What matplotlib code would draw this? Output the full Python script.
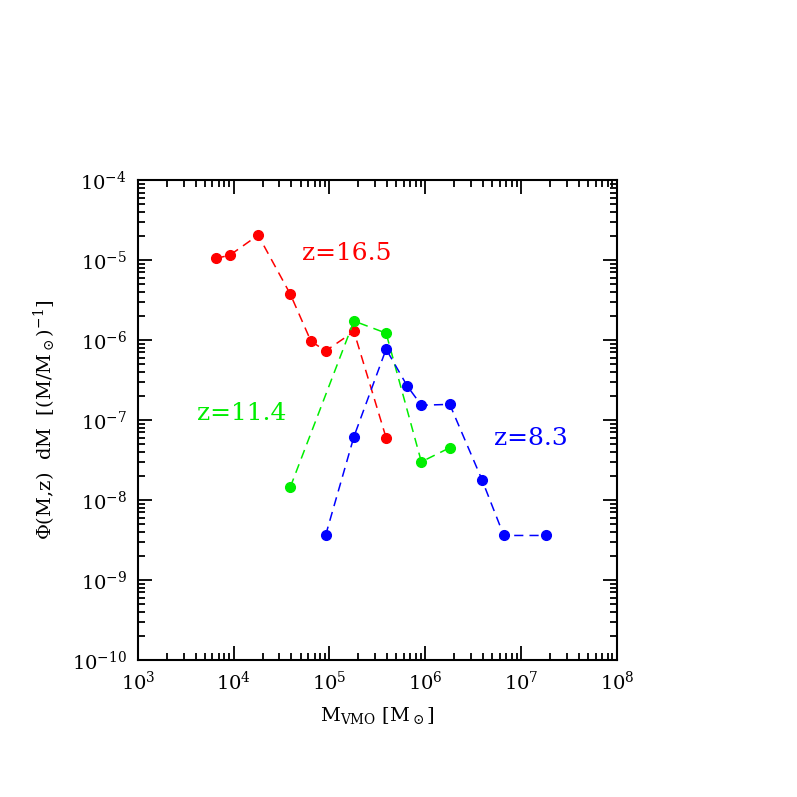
import matplotlib
matplotlib.use('Agg')
import matplotlib.pyplot as plt
from matplotlib.ticker import LogLocator, NullFormatter

plt.rcParams['font.family'] = 'DejaVu Serif'
plt.rcParams['mathtext.fontset'] = 'dejavuserif'

# z = 16.5
m_red = [6.5e3, 9.1e3, 1.8e4, 3.9e4, 6.4e4, 9.1e4, 1.8e5, 3.9e5]
phi_red = [1.05e-5, 1.15e-5, 2.05e-5, 3.75e-6, 9.7e-7, 7.3e-7, 1.28e-6, 6.0e-8]

# z = 11.4
m_green = [3.9e4, 1.8e5, 3.9e5, 9.1e5, 1.8e6]
phi_green = [1.45e-8, 1.73e-6, 1.22e-6, 3.0e-8, 4.5e-8]

# z = 8.3
m_blue = [9.1e4, 1.8e5, 3.9e5, 6.5e5, 9.1e5, 1.8e6, 3.9e6, 6.6e6, 1.8e7]
phi_blue = [3.6e-9, 6.2e-8, 7.7e-7, 2.65e-7, 1.53e-7, 1.57e-7, 1.8e-8, 3.6e-9, 3.6e-9]

fig = plt.figure(figsize=(7.97, 7.97), dpi=100)
ax = fig.add_axes([0.173, 0.172, 0.601, 0.602])

for m, phi, c in [(m_red, phi_red, '#ff0000'),
                  (m_green, phi_green, '#00ee00'),
                  (m_blue, phi_blue, '#0000ff')]:
    ax.plot(m, phi, color=c, ls=(0, (6, 4)), lw=1.1, marker='o', ms=7, mec=c, mfc=c)

ax.text(5.2e4, 1.0e-5, 'z=16.5', color='#ff0000', fontsize=18, va='baseline')
ax.text(4.1e3, 1.0e-7, 'z=11.4', color='#00ee00', fontsize=18, va='baseline')
ax.text(5.2e6, 4.9e-8, 'z=8.3', color='#0000ff', fontsize=18, va='baseline')

ax.set_xscale('log')
ax.set_yscale('log')
ax.set_xlim(1e3, 1e8)
ax.set_ylim(1e-10, 1e-4)

ax.xaxis.set_major_locator(LogLocator(base=10, numticks=10))
ax.yaxis.set_major_locator(LogLocator(base=10, numticks=10))
ax.xaxis.set_minor_locator(LogLocator(base=10, subs=range(2, 10), numticks=20))
ax.yaxis.set_minor_locator(LogLocator(base=10, subs=range(2, 10), numticks=20))
ax.xaxis.set_minor_formatter(NullFormatter())
ax.yaxis.set_minor_formatter(NullFormatter())

ax.tick_params(which='both', direction='in', top=True, right=True, width=1.3, labelsize=14)
ax.tick_params(which='major', length=10, pad=8)
ax.tick_params(which='minor', length=5)
for s in ax.spines.values():
    s.set_linewidth(1.5)

ax.set_xlabel(r'M$_{\rm VMO}$ [M$_\odot$]', fontsize=14, labelpad=8)
ax.set_ylabel(r'$\Phi$(M,z)  dM  [(M/M$_\odot$)$^{-1}$]', fontsize=14, labelpad=10)

fig.savefig('out.png', dpi=100)
